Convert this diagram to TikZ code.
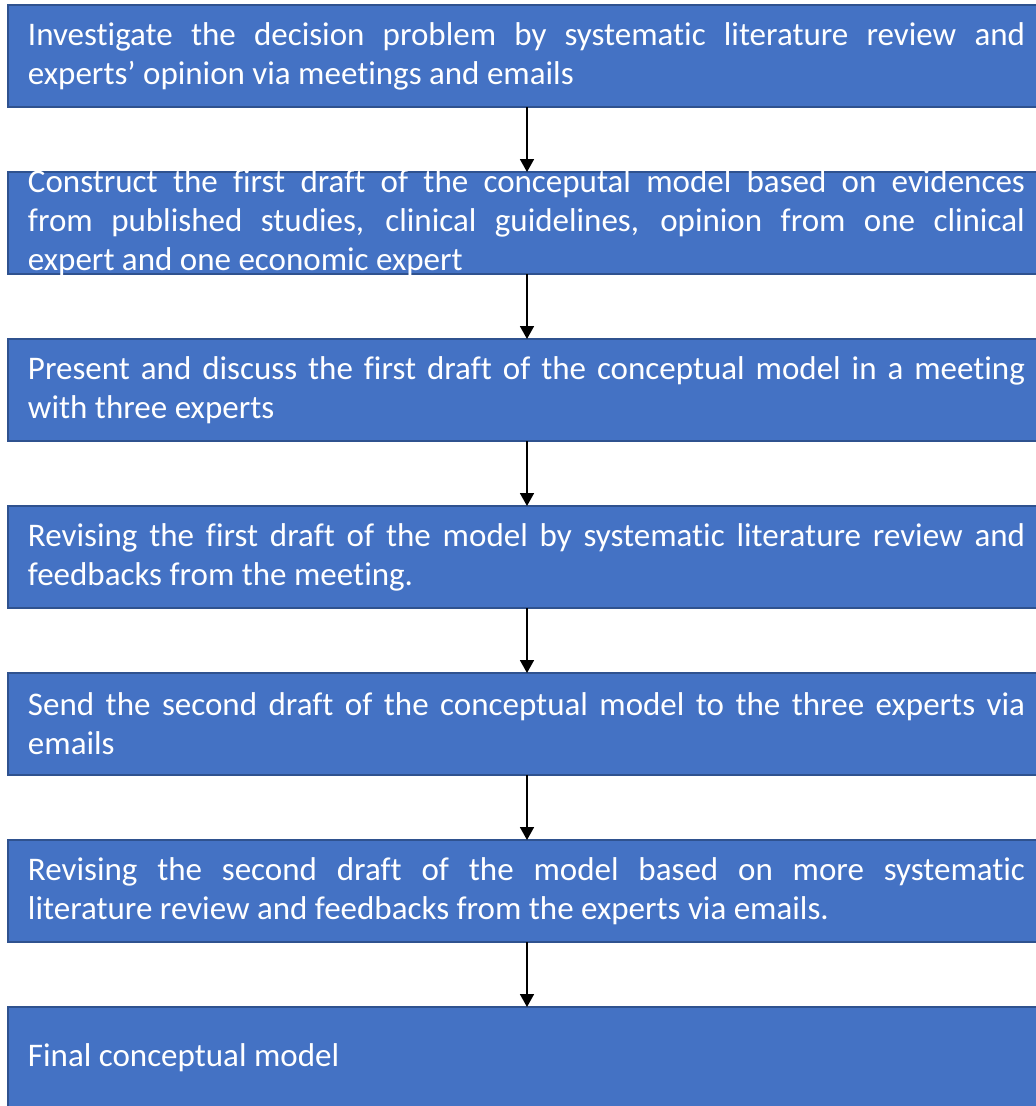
\documentclass[tikz,border=0pt]{standalone}
\usepackage{fontspec}
\setmainfont[Ligatures=NoCommon]{Carlito}
\usetikzlibrary{arrows.meta,positioning}

\definecolor{stepfill}{HTML}{4472C4}
\definecolor{stepedge}{HTML}{2F528F}
\newcommand\jline[1]{\makebox[997pt][s]{#1}\\}
\newcommand\steptext[1]{\parbox[c][102pt][c]{1038pt}{\leftskip=20pt #1}}

\begin{document}
\begin{tikzpicture}[x=1pt,y=1pt,node distance=65pt,
    stepbox/.style={draw=stepedge,fill=stepfill,line width=1.3pt,text=white,
      inner sep=0pt,outer sep=0pt,font=\fontsize{33}{39}\selectfont},
    flow/.style={line width=1.8pt,-{Triangle[width=14pt,length=13pt]}}]
      \useasboundingbox (0,0) rectangle (1036,-1106);
      \node[stepbox,anchor=north west] (s1) at (8,-5) {\steptext{%
        \jline{Investigate the decision problem by systematic literature review and}
        experts’ opinion via meetings and emails}};
      \node[stepbox,below=of s1] (s2) {\steptext{%
        \jline{Construct the first draft of the conceputal model based on evidences}
        \jline{from published studies, clinical guidelines, opinion from one clinical}
        expert and one economic expert}};
      \node[stepbox,below=of s2] (s3) {\steptext{%
        \jline{Present and discuss the first draft of the conceptual model in a meeting}
        with three experts}};
      \node[stepbox,below=of s3] (s4) {\steptext{%
        \jline{Revising the first draft of the model by systematic literature review and}
        feedbacks from the meeting.}};
      \node[stepbox,below=of s4] (s5) {\steptext{%
        \jline{Send the second draft of the conceptual model to the three experts via}
        emails}};
      \node[stepbox,below=of s5] (s6) {\steptext{%
        \jline{Revising the second draft of the model based on more systematic}
        literature review and feedbacks from the experts via emails.}};
      \node[stepbox,below=of s6] (s7) {\steptext{Final conceptual model}};
      \foreach \a/\b in {s1/s2,s2/s3,s3/s4,s4/s5,s5/s6,s6/s7}
        \draw[flow] (\a.south) -- (\b.north);
\end{tikzpicture}
\end{document}
